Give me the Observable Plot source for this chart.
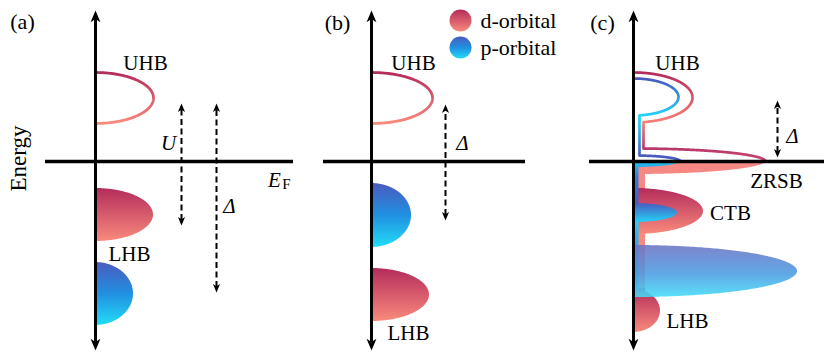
<!DOCTYPE html>
<html><head><meta charset="utf-8">
<script src="https://cdn.jsdelivr.net/npm/d3@7"></script>
<script src="https://cdn.jsdelivr.net/npm/@observablehq/plot@0.6"></script>
<style>body{margin:0;background:#fff}</style>
</head><body><div id="chart"></div>
<script>
// ---------- data (energy in arb. units, E_F = 0; DOS in arb. units) ----------
const panelIds      = ["a", "b", "c"];
const panelAxisX    = [9.5, 37.1, 63.3];      // DOS origin of each panel
const fermiFrom     = [4.5, 32.3, 58.9];
const fermiTo       = [29.3, 52.5, 82.4];
const axisTopE      = 15.1;
const axisBottomE   = -18.9;

// simple half-elliptic bands of panels (a) and (b)
const bandPanel   = ["a", "a", "a", "b", "b", "b"];
const bandOrbital = ["d", "d", "p", "d", "p", "d"];
const bandStyle   = ["outline", "fill", "fill", "outline", "fill", "fill"];
const bandCenter  = [6.35, -5.35, -13.25, 6.35, -5.4, -13.35];
const bandHalf    = [2.55, 2.65, 3.15, 2.55, 3.2, 2.65];
const bandWidth   = [5.8, 5.8, 3.8, 6.1, 4.0, 5.8];

// panel (c): density-of-states components [type, centre|top, halfHeight|bottom, width]
const cEmptyD = [["ellipse", 6.4, 2.5, 5.9], ["stem", 6.4, 0, 1.0], ["ellipse", 0, 1.3, 13.2]];
const cEmptyP = [["ellipse", 6.45, 1.85, 4.5], ["stem", 6.45, 0, 0.6], ["ellipse", 0, 0.6, 4.7]];
const cFullD  = [["ellipse", 0, 1.3, 13.2], ["stem", 0, -13.2, 1.2], ["ellipse", -5.0, 2.3, 7.0], ["ellipse", -14.95, 2.15, 2.7]];
const cFullP  = [["ellipse", 0, 0.6, 4.7], ["stem", 0, -12.9, 0.55], ["ellipse", -5.15, 0.95, 4.4]];
const cBigP   = [-11.0, 2.6, 16.4];   // centre, half-height, width of the large p band

// dashed energy-gap arrows
const gapX      = [18.1, 21.6, 44.5, 77.7];
const gapTop    = [5.8, 5.8, 5.7, 6.1];
const gapBottom = [-6.4, -13.1, -5.9, 0.4];

// text annotations
const labelText = ["UHB", "LHB", "UHB", "LHB", "UHB", "ZRSB", "CTB", "LHB"];
const labelX    = [14.5, 12.9, 41.3, 40.8, 67.7, 77.6, 73.0, 68.7];
const labelE    = [9.8, -9.3, 9.8, -17.2, 9.8, -2.0, -5.2, -16.0];
const mathText  = ["U", "Δ", "Δ", "Δ"];
const mathX     = [16.8, 22.9, 46.2, 79.2];
const mathE     = [1.8, -4.5, 1.8, 2.5];
const tagText   = ["(a)", "(b)", "(c)"];
const tagX      = [2.2, 33.7, 60.2];
const tagE      = [14.0, 13.9, 13.9];
const legendText = ["d-orbital", "p-orbital"];
const legendE    = [14.1, 11.4];
const legendX    = 46.0;

// ---------- geometry helpers ----------
function halfEllipse(c, hh, w, x0, id) {
  const pts = [];
  for (let i = 0; i <= 200; i++) {
    const t = Math.PI * i / 200;
    pts.push({id, E: c + hh * Math.cos(t), x0, x: x0 + w * Math.sin(t)});
  }
  return pts;
}
function dosAt(E, comps) {
  let D = 0;
  for (const c of comps) {
    if (c[0] === "ellipse") {
      const u = (E - c[1]) / c[2];
      if (Math.abs(u) <= 1) D = Math.max(D, c[3] * Math.sqrt(1 - u * u));
    } else if (E <= c[1] && E >= c[2]) D = Math.max(D, c[3]);
  }
  return D;
}
function profile(comps, from, to, x0, id) {
  const n = Math.round(Math.abs(to - from) / 0.004), pts = [];
  for (let i = 0; i <= n; i++) {
    const E = from + (to - from) * i / n;
    pts.push({id, E, x0, x: x0 + dosAt(E, comps)});
  }
  return pts;
}

const ax = Object.fromEntries(panelIds.map((p, i) => [p, panelAxisX[i]]));
const simpleBands = bandPanel.map((p, i) => halfEllipse(bandCenter[i], bandHalf[i], bandWidth[i], ax[p], p + i)
  .map(d => ({...d, orbital: bandOrbital[i], style: bandStyle[i]})));
const fillD = simpleBands.filter(b => b[0].style === "fill" && b[0].orbital === "d").flat();
const fillP = simpleBands.filter(b => b[0].style === "fill" && b[0].orbital === "p").flat();
const outlines = simpleBands.filter(b => b[0].style === "outline").flat();

const cx = ax.c;
const cEmptyDPts = profile(cEmptyD, 8.9, 0, cx, "ed");
const cEmptyPPts = profile(cEmptyP, 8.3, 0, cx, "ep");
const cFullDPts  = profile(cFullD, 0, -17.1, cx, "fd");
const cFullPPts  = profile(cFullP, 0, -12.9, cx, "fp");
const cBigPPts   = halfEllipse(cBigP[0], cBigP[1], cBigP[2], cx, "bp");

const panelRows = panelIds.map((p, i) => ({p, x: panelAxisX[i], x1: fermiFrom[i], x2: fermiTo[i]}));
const gapRows = gapX.map((x, i) => ({x, top: gapTop[i], bottom: gapBottom[i]}));

// colours
const crimson = "#b42c5b", salmon = "#f98a7c";
const indigo = "#4a5bbf", azure = "#2190e0", cyan = "#22dcf8";

// arrow-head symbols (tip at origin)
const headUp = {draw(ctx, size) { const r = Math.sqrt(size / Math.PI);
  ctx.moveTo(0, 0); ctx.lineTo(r * 0.55, r * 1.3); ctx.lineTo(0, r * 0.95); ctx.lineTo(-r * 0.55, r * 1.3); ctx.closePath(); }};
const headDown = {draw(ctx, size) { const r = Math.sqrt(size / Math.PI);
  ctx.moveTo(0, 0); ctx.lineTo(r * 0.55, -r * 1.3); ctx.lineTo(0, -r * 0.95); ctx.lineTo(-r * 0.55, -r * 1.3); ctx.closePath(); }};

function gradientDefs(index, scales) {
  const ns = "http://www.w3.org/2000/svg";
  const defs = document.createElementNS(ns, "defs");
  function add(id, stops, span) {
    const g = document.createElementNS(ns, "linearGradient");
    g.setAttribute("id", id);
    if (span) {
      g.setAttribute("gradientUnits", "userSpaceOnUse");
      g.setAttribute("x1", 0); g.setAttribute("x2", 0);
      g.setAttribute("y1", scales.y(span[0])); g.setAttribute("y2", scales.y(span[1]));
    } else {
      g.setAttribute("x1", 0); g.setAttribute("y1", 0); g.setAttribute("x2", 0); g.setAttribute("y2", 1);
    }
    for (const [o, c] of stops) {
      const s = document.createElementNS(ns, "stop");
      const off = span ? (o - span[0]) / (span[1] - span[0]) : o;
      s.setAttribute("offset", off); s.setAttribute("stop-color", c);
      g.appendChild(s);
    }
    defs.appendChild(g);
  }
  add("dGrad", [[0, crimson], [1, salmon]]);
  add("pGrad", [[0, indigo], [0.5, azure], [1, cyan]]);
  add("bigGrad", [[0, "#6c74c4"], [0.55, "#4a9ce2"], [1, "#44dcf8"]]);
  add("cEmptyDGrad", [[8.9, crimson], [3.9, "#f88078"], [1.3, "#b8386a"], [0, "#cc4a70"]], [8.9, 0]);
  add("cEmptyPGrad", [[8.3, indigo], [4.6, "#20d2f8"], [3.6, "#28c6f2"], [0.6, indigo], [0, "#4a66c8"]], [8.3, 0]);
  add("cFullDGrad", [[0, "#f58a88"], [-2.69, "#f8867c"], [-2.7, crimson], [-7.3, salmon], [-12.7, "#f8867c"],
                     [-12.75, crimson], [-17.1, salmon]], [0, -17.1]);
  add("cFullPGrad", [[0, "#20c8f2"], [-1.6, "#3a78d4"], [-4.2, indigo], [-6.1, "#22d2f8"], [-7.6, "#30aeea"], [-12.9, "#3a80d8"]], [0, -12.9]);
  return defs;
}

const serif = "Liberation Serif";
const txt = {fill: "black", fontSize: 21, fontFamily: serif};
const chart = Plot.plot({
  width: 827, height: 354, margin: 0,
  x: {domain: [0, 82.7], axis: null},
  y: {domain: [-19.3, 16.1], axis: null},
  style: {background: "#fff", color: "#000"},
  marks: [
    gradientDefs,
    // panels (a),(b) occupied bands
    Plot.areaX(fillD, {y: "E", x1: "x0", x2: "x", z: "id", fill: "url(#dGrad)"}),
    Plot.areaX(fillP, {y: "E", x1: "x0", x2: "x", z: "id", fill: "url(#pGrad)"}),
    // panel (c) occupied bands
    Plot.areaX(cFullDPts, {y: "E", x1: "x0", x2: "x", fill: "url(#cFullDGrad)"}),
    Plot.areaX(cFullPPts, {y: "E", x1: "x0", x2: "x", fill: "url(#cFullPGrad)"}),
    Plot.areaX(cBigPPts, {y: "E", x1: "x0", x2: "x", fill: "url(#bigGrad)", fillOpacity: 0.88}),
    // unoccupied outlines
    Plot.line(outlines, {x: "x", y: "E", z: "id", stroke: "url(#dGrad)", strokeWidth: 2.8}),
    Plot.line(cEmptyDPts, {x: "x", y: "E", stroke: "url(#cEmptyDGrad)", strokeWidth: 2.7}),
    Plot.line(cEmptyPPts, {x: "x", y: "E", stroke: "url(#cEmptyPGrad)", strokeWidth: 2.7}),
    // Fermi level lines and energy axes
    Plot.ruleY(panelRows, {y: 0, x1: "x1", x2: "x2", stroke: "black", strokeWidth: 3.5}),
    Plot.ruleX(panelRows, {x: "x", y1: axisBottomE + 0.6, y2: axisTopE - 0.6, stroke: "black", strokeWidth: 3}),
    Plot.dot(panelRows, {x: "x", y: axisTopE, symbol: headUp, r: 9, fill: "black", stroke: null}),
    Plot.dot(panelRows, {x: "x", y: axisBottomE, symbol: headDown, r: 9, fill: "black", stroke: null}),
    // dashed gap arrows
    Plot.ruleX(gapRows, {x: "x", y1: d => d.bottom + 0.5, y2: d => d.top - 0.5, stroke: "black", strokeWidth: 2, strokeDasharray: "6,3.5"}),
    Plot.dot(gapRows, {x: "x", y: "top", symbol: headUp, r: 6.5, fill: "black", stroke: null}),
    Plot.dot(gapRows, {x: "x", y: "bottom", symbol: headDown, r: 6.5, fill: "black", stroke: null}),
    // legend
    Plot.dot([legendText[0]], {x: legendX, y: legendE[0], r: 11, fill: "url(#dGrad)", stroke: null}),
    Plot.dot([legendText[1]], {x: legendX, y: legendE[1], r: 11, fill: "url(#pGrad)", stroke: null}),
    Plot.text(legendText, {...txt, fontSize: 22, x: legendX + 2.0, y: (d, i) => legendE[i], text: d => d, textAnchor: "start"}),
    // labels
    Plot.text(labelText, {...txt, x: (d, i) => labelX[i], y: (d, i) => labelE[i], text: d => d}),
    Plot.text(mathText, {...txt, x: (d, i) => mathX[i], y: (d, i) => mathE[i], text: d => d, fontStyle: "italic"}),
    Plot.text(tagText, {...txt, fontSize: 22, x: (d, i) => tagX[i], y: (d, i) => tagE[i], text: d => d}),
    Plot.text(["Energy"], {...txt, fontSize: 23, x: 1.8, y: 0.3, text: d => d, rotate: -90}),
    Plot.text(["E"], {...txt, x: 27.4, y: -1.9, text: d => d, fontStyle: "italic"}),
    Plot.text(["F"], {...txt, x: 28.6, y: -2.3, text: d => d, fontSize: 15})
  ]
});
document.getElementById("chart").appendChild(chart);
</script>
</body></html>
